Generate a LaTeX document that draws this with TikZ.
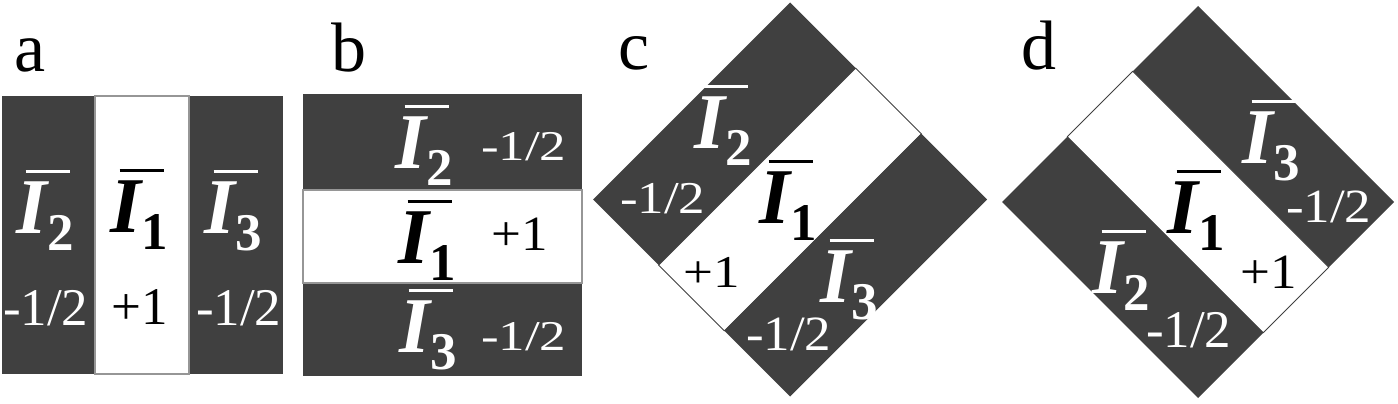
\documentclass[tikz,border=0pt]{standalone}
\usepackage{fontspec}
\setmainfont{Liberation Serif}
\usetikzlibrary{calc}
\definecolor{dk}{RGB}{64,64,64}
\definecolor{sepgray}{RGB}{150,150,150}
\newcommand\Ilab[1]{\fontsize{79}{79}\selectfont\bfseries\itshape\rlap{\hspace{9pt}\raisebox{60.5pt}{\rule{44pt}{3pt}}}I\raisebox{-17pt}{\fontsize{53}{53}\selectfont\upshape #1}}
\newcommand\nm[2][1]{\scalebox{1}[#1]{\fontsize{53}{53}\selectfont #2}}
\begin{document}
\begin{tikzpicture}[x=1pt,y=-1pt,
  lab/.style={inner sep=0pt,outer sep=0pt,anchor=base west},
  wt/.style={lab,text=white},
  bk/.style={lab,text=black},
  letter/.style={lab,font=\fontsize{70}{70}\selectfont},
  darkfill/.style={fill=dk},
  whitestrip/.style={fill=white,draw=sepgray,line width=1.6pt},
  whitediag/.style={fill=white,draw=dk,line width=0.8pt}]
\useasboundingbox (0,0) rectangle (1398,404);

% panel letters
\node[letter] (la) at (14.4,71) {a};
\node[letter] (lb) at (331,71) {b};
\node[letter] (lc) at (618,70) {c};
\node[letter] (ld) at (1021,70) {d};

% ---------- panel a ----------
\fill[darkfill] (2,96) rectangle (94,374);
\fill[darkfill] (190,96) rectangle (283,374);
\filldraw[whitestrip] (95,96) rectangle (189,374);
\node[wt] (a2) at (16.5,233) {\Ilab{2}};
\node[bk] (a1) at (110.5,232) {\Ilab{1}};
\node[wt] (a3) at (204.5,233) {\Ilab{3}};
\node[wt] (an2) at (3,325) {\nm{-1/2}};
\node[bk] (an1) at (111.4,324) {\nm{+1}};
\node[wt] (an3) at (196,325) {\nm{-1/2}};

% ---------- panel b ----------
\fill[darkfill] (303,94) rectangle (582,190);
\fill[darkfill] (303,284) rectangle (582,376);
\filldraw[whitestrip] (303,190) rectangle (582,283);
\node[wt] (b2) at (395.5,168) {\Ilab{2}};
\node[bk] (b1) at (398.5,263) {\Ilab{1}};
\node[wt] (b3) at (399.5,352) {\Ilab{3}};
\node[wt] (bn2) at (481,160) {\nm[0.8]{-1/2}};
\node[bk] (bn1) at (491.4,250) {\nm[0.93]{+1}};
\node[wt] (bn3) at (481,350) {\nm[0.8]{-1/2}};

% ---------- panel c ----------
\coordinate (cT) at (790,2.5);
\coordinate (cL) at (593,199.5);
\coordinate (cR) at (987,199.5);
\coordinate (cB) at (790,396.5);
\coordinate (cP1) at ($(cL)!1/3!(cB)$);
\coordinate (cP2) at ($(cL)!2/3!(cB)$);
\coordinate (cQ1) at ($(cT)!1/3!(cR)$);
\coordinate (cQ2) at ($(cT)!2/3!(cR)$);
\fill[darkfill] (cL) -- (cT) -- (cQ1) -- (cP1) -- cycle;
\filldraw[whitediag] (cP1) -- (cQ1) -- (cQ2) -- (cP2) -- cycle;
\fill[darkfill] (cP2) -- (cQ2) -- (cR) -- (cB) -- cycle;
\node[wt] (c2) at (694.5,148) {\Ilab{2}};
\node[bk] (c1) at (759.5,223) {\Ilab{1}};
\node[wt] (c3) at (820.5,302) {\Ilab{3}};
\node[wt] (cn2) at (620,213) {\nm[0.86]{-1/2}};
\node[bk] (cn1) at (683.4,287) {\nm[0.86]{+1}};
\node[wt] (cn3) at (746,350) {\nm[0.93]{-1/2}};

% ---------- panel d ----------
\coordinate (dT) at (1198,6);
\coordinate (dL) at (1002,202);
\coordinate (dR) at (1394,202);
\coordinate (dB) at (1198,398);
\coordinate (dP1) at ($(dT)!1/3!(dL)$);
\coordinate (dP2) at ($(dT)!2/3!(dL)$);
\coordinate (dQ1) at ($(dR)!1/3!(dB)$);
\coordinate (dQ2) at ($(dR)!2/3!(dB)$);
\fill[darkfill] (dT) -- (dR) -- (dQ1) -- (dP1) -- cycle;
\filldraw[whitediag] (dP1) -- (dQ1) -- (dQ2) -- (dP2) -- cycle;
\fill[darkfill] (dP2) -- (dQ2) -- (dB) -- (dL) -- cycle;
\node[wt] (d3) at (1242.5,163) {\Ilab{3}};
\node[bk] (d1) at (1167.5,233) {\Ilab{1}};
\node[wt] (d2) at (1092.5,293) {\Ilab{2}};
\node[wt] (dn3) at (1286,222) {\nm[0.9]{-1/2}};
\node[bk] (dn1) at (1240.4,288) {\nm[0.93]{+1}};
\node[wt] (dn2) at (1146,347) {\nm{-1/2}};
\end{tikzpicture}
\end{document}
